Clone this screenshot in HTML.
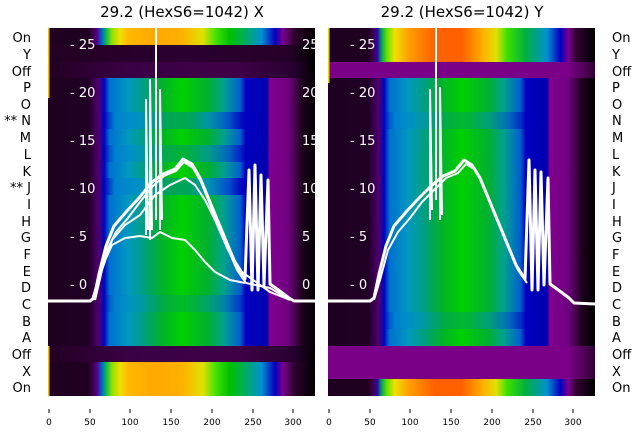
<!DOCTYPE html>
<html><head><meta charset="utf-8"><style>
html,body{margin:0;padding:0;background:#fff;width:640px;height:440px;overflow:hidden}
svg{display:block;font-family:"DejaVu Sans","Liberation Sans",sans-serif}
</style></head><body>
<svg width="640" height="440" viewBox="0 0 640 440">
<defs>
<linearGradient id="spec" x1="0" x2="1" y1="0" y2="0">
<stop offset="0" stop-color="#200020"/><stop offset="0.15" stop-color="#200020"/><stop offset="0.17" stop-color="#400050"/>
<stop offset="0.185" stop-color="#5a0090"/><stop offset="0.2" stop-color="#0060d0"/><stop offset="0.215" stop-color="#00b060"/>
<stop offset="0.24" stop-color="#90e000"/><stop offset="0.27" stop-color="#f0e000"/><stop offset="0.3" stop-color="#ffb800"/>
<stop offset="0.4" stop-color="#ffa800"/><stop offset="0.5" stop-color="#ffb000"/><stop offset="0.58" stop-color="#e0e000"/>
<stop offset="0.63" stop-color="#40e000"/><stop offset="0.68" stop-color="#00c000"/><stop offset="0.73" stop-color="#00b050"/>
<stop offset="0.8" stop-color="#0090d0"/><stop offset="0.85" stop-color="#0000c0"/><stop offset="0.88" stop-color="#7a0090"/>
<stop offset="0.92" stop-color="#300030"/><stop offset="1" stop-color="#000"/></linearGradient>
<linearGradient id="specR" x1="0" x2="1" y1="0" y2="0">
<stop offset="0" stop-color="#200020"/><stop offset="0.15" stop-color="#200020"/><stop offset="0.17" stop-color="#400050"/>
<stop offset="0.185" stop-color="#3000b0"/><stop offset="0.2" stop-color="#00a060"/><stop offset="0.22" stop-color="#60e000"/>
<stop offset="0.25" stop-color="#f0e000"/><stop offset="0.3" stop-color="#ffa000"/><stop offset="0.4" stop-color="#ff6000"/>
<stop offset="0.5" stop-color="#ff6000"/><stop offset="0.58" stop-color="#ffb000"/><stop offset="0.63" stop-color="#e0e000"/>
<stop offset="0.67" stop-color="#40e000"/><stop offset="0.74" stop-color="#00b040"/><stop offset="0.82" stop-color="#0090d0"/>
<stop offset="0.87" stop-color="#0000c0"/><stop offset="0.9" stop-color="#7a0090"/><stop offset="0.93" stop-color="#300030"/><stop offset="1" stop-color="#000"/></linearGradient>
<linearGradient id="band" x1="0" x2="1" y1="0" y2="0">
<stop offset="0" stop-color="#200020"/><stop offset="0.15" stop-color="#200025"/><stop offset="0.19" stop-color="#500070"/>
<stop offset="0.21" stop-color="#0000c0"/><stop offset="0.23" stop-color="#0070d0"/><stop offset="0.3" stop-color="#0098c0"/>
<stop offset="0.36" stop-color="#00a080"/><stop offset="0.42" stop-color="#00b030"/><stop offset="0.5" stop-color="#00d000"/>
<stop offset="0.6" stop-color="#00b030"/><stop offset="0.66" stop-color="#00a090"/><stop offset="0.72" stop-color="#0060d0"/>
<stop offset="0.74" stop-color="#0000c0"/><stop offset="0.82" stop-color="#0000b0"/><stop offset="0.83" stop-color="#800090"/>
<stop offset="0.9" stop-color="#700080"/><stop offset="0.95" stop-color="#200020"/><stop offset="1" stop-color="#000"/></linearGradient>
<linearGradient id="bandB" x1="0" x2="1" y1="0" y2="0">
<stop offset="0" stop-color="#200020"/><stop offset="0.15" stop-color="#200025"/><stop offset="0.19" stop-color="#500070"/>
<stop offset="0.21" stop-color="#0000c0"/><stop offset="0.25" stop-color="#0080d0"/><stop offset="0.35" stop-color="#0090c8"/>
<stop offset="0.45" stop-color="#00a060"/><stop offset="0.52" stop-color="#00a060"/><stop offset="0.6" stop-color="#0090c0"/>
<stop offset="0.68" stop-color="#0040d0"/><stop offset="0.72" stop-color="#0000c0"/><stop offset="0.82" stop-color="#0000b0"/>
<stop offset="0.83" stop-color="#800090"/><stop offset="0.9" stop-color="#700080"/><stop offset="0.95" stop-color="#200020"/><stop offset="1" stop-color="#000"/></linearGradient>
<linearGradient id="dark" x1="0" x2="1" y1="0" y2="0">
<stop offset="0" stop-color="#220022"/><stop offset="0.5" stop-color="#2a0030"/><stop offset="0.9" stop-color="#250028"/><stop offset="1" stop-color="#000"/></linearGradient>
<linearGradient id="darkP" x1="0" x2="1" y1="0" y2="0">
<stop offset="0" stop-color="#220022"/><stop offset="0.3" stop-color="#3a0045"/><stop offset="0.7" stop-color="#400048"/><stop offset="0.92" stop-color="#280030"/><stop offset="1" stop-color="#000"/></linearGradient>
<linearGradient id="purp" x1="0" x2="1" y1="0" y2="0">
<stop offset="0" stop-color="#7a0088"/><stop offset="0.9" stop-color="#7a0088"/><stop offset="1" stop-color="#300035"/></linearGradient>
</defs>

<text x="182" y="17" font-size="15" text-anchor="middle" fill="#000">29.2 (HexS6=1042) X</text>
<text x="462" y="17" font-size="15" text-anchor="middle" fill="#000">29.2 (HexS6=1042) Y</text>

<!-- Left panel -->
<g>
<rect x="48" y="28" width="267" height="17" fill="url(#spec)"/>
<rect x="48" y="45" width="267" height="17" fill="url(#dark)"/>
<rect x="48" y="62" width="267" height="16" fill="url(#darkP)"/>
<rect x="48" y="78" width="267" height="268" fill="url(#band)"/>
<rect x="48" y="112" width="267" height="17" fill="url(#bandB)" opacity="0.8"/>
<rect x="48" y="145" width="267" height="17" fill="url(#bandB)" opacity="0.6"/>
<rect x="48" y="178" width="267" height="17" fill="url(#bandB)" opacity="0.9"/>
<rect x="48" y="295" width="267" height="17" fill="url(#bandB)" opacity="0.4"/>
<rect x="48" y="346" width="267" height="16" fill="url(#darkP)"/>
<rect x="48" y="362" width="267" height="34" fill="url(#spec)"/>
<rect x="48" y="28" width="1.5" height="70" fill="#f0c000"/>
<rect x="48" y="346" width="1.5" height="50" fill="#f0c000"/>
<g fill="#fff" font-size="13">
<text x="70" y="49">- 25</text><text x="70" y="97">- 20</text><text x="70" y="145">- 15</text>
<text x="70" y="193">- 10</text><text x="70" y="241">- 5</text><text x="70" y="289">- 0</text>
<text x="302" y="49">25</text><text x="302" y="97">20</text><text x="302" y="145">15</text>
<text x="302" y="193">10</text><text x="302" y="241">5</text><text x="302" y="289">0</text>
</g>
<g fill="none" stroke="#fff" stroke-width="2" stroke-linejoin="round">
<path d="M48,301 L90,301 L94,298 L99,274 L106,246 L114,226 L126,212 L139,198 L151,183 L163,174 L175,169 L183,159 L192,164 L200,178 L212,207 L224,236 L236,265 L245,279 L249,170 L252,290 L255,165 L258,290 L261,175 L264,285 L268,180 L270,284 L277,289 L289,298 L294,301 L315,301" stroke-width="3"/>
<path d="M92,300 L98,280 L106,252 L116,232 L128,218 L140,202 L152,187 L164,176 L176,171 L184,162 L193,168 L201,182 L213,212 L225,242 L237,270 L246,283 L270,288 L280,294 L292,300"/>
<path d="M95,300 L102,270 L112,240 L125,225 L140,215 L155,195 L170,185 L185,178 L195,185 L205,200 L215,220 L228,250 L242,272 L270,292 L290,300"/>
<path d="M95,300 L103,265 L112,245 L125,238 L140,236 L152,238 L160,232 L172,238 L185,240 L195,250 L205,262 L215,272 L230,280 L245,283"/>
<path d="M156,28 L156,220"/>
<path d="M150,240 L150,80 L152,230 M160,230 L160,90 L162,220 M146,235 L146,100 L148,230"/>
</g>
</g>

<!-- Right panel -->
<g>
<rect x="328" y="28" width="267" height="34" fill="url(#specR)"/>
<rect x="328" y="62" width="267" height="16" fill="url(#purp)"/>
<rect x="328" y="78" width="267" height="268" fill="url(#band)"/>
<rect x="328" y="112" width="267" height="17" fill="url(#bandB)" opacity="0.5"/>
<rect x="328" y="312" width="267" height="17" fill="url(#bandB)" opacity="0.5"/>
<rect x="328" y="346" width="267" height="33" fill="url(#purp)"/>
<rect x="328" y="379" width="267" height="17" fill="url(#specR)"/>
<rect x="328" y="28" width="1.5" height="55" fill="#e0e000"/>
<g fill="#fff" font-size="13">
<text x="350" y="49">- 25</text><text x="350" y="97">- 20</text><text x="350" y="145">- 15</text>
<text x="350" y="193">- 10</text><text x="350" y="241">- 5</text><text x="350" y="289">- 0</text>
</g>
<g fill="none" stroke="#fff" stroke-width="3" stroke-linejoin="round">
<path d="M328,301 L370,301 L374,298 L379,274 L386,246 L394,226 L406,212 L419,198 L431,186 L443,176 L455,171 L464,160 L472,165 L480,178 L492,207 L504,236 L516,265 L525,279 L529,160 L532,290 L535,170 L538,290 L541,172 L544,285 L548,178 L550,284 L557,289 L569,298 L574,303 L595,304"/>
<path d="M374,300 L380,280 L388,250 L398,232 L410,218 L422,202 L434,190 L446,178 L458,173 L466,164 L474,169 L482,182 L494,212 L506,242 L518,270 L527,283" stroke-width="2"/>
<path d="M436,28 L436,200" stroke-width="2"/>
<path d="M430,220 L430,90 L432,210 M440,220 L440,88 L442,215" stroke-width="2"/>
</g>
</g>

<!-- category labels -->
<g font-size="13" fill="#000">
<g text-anchor="end">
<text x="31" y="42">On</text><text x="31" y="59">Y</text><text x="31" y="76">Off</text><text x="31" y="92">P</text>
<text x="31" y="109">O</text><text x="31" y="125">** N</text><text x="31" y="142">M</text><text x="31" y="159">L</text>
<text x="31" y="176">K</text><text x="31" y="192">** J</text><text x="31" y="209">I</text><text x="31" y="226">H</text>
<text x="31" y="242">G</text><text x="31" y="259">F</text><text x="31" y="276">E</text><text x="31" y="292">D</text>
<text x="31" y="309">C</text><text x="31" y="326">B</text><text x="31" y="342">A</text><text x="31" y="359">Off</text>
<text x="31" y="376">X</text><text x="31" y="392">On</text>
</g>
<g>
<text x="612" y="42">On</text><text x="612" y="59">Y</text><text x="612" y="76">Off</text><text x="612" y="92">P</text>
<text x="612" y="109">O</text><text x="612" y="125">N</text><text x="612" y="142">M</text><text x="612" y="159">L</text>
<text x="612" y="176">K</text><text x="612" y="192">J</text><text x="612" y="209">I</text><text x="612" y="226">H</text>
<text x="612" y="242">G</text><text x="612" y="259">F</text><text x="612" y="276">E</text><text x="612" y="292">D</text>
<text x="612" y="309">C</text><text x="612" y="326">B</text><text x="612" y="342">A</text><text x="612" y="359">Off</text>
<text x="612" y="376">X</text><text x="612" y="392">On</text>
</g>
</g>

<!-- x ticks -->
<g stroke="#000" stroke-width="1">
<path d="M49,409v4M90,409v4M130,409v4M171,409v4M212,409v4M253,409v4M293,409v4"/>
<path d="M329,409v4M370,409v4M410,409v4M451,409v4M492,409v4M533,409v4M573,409v4"/>
</g>
<g font-size="9" fill="#000" text-anchor="middle">
<text x="49" y="425">0</text><text x="90" y="425">50</text><text x="130" y="425">100</text><text x="171" y="425">150</text>
<text x="212" y="425">200</text><text x="253" y="425">250</text><text x="293" y="425">300</text>
<text x="329" y="425">0</text><text x="370" y="425">50</text><text x="410" y="425">100</text><text x="451" y="425">150</text>
<text x="492" y="425">200</text><text x="533" y="425">250</text><text x="573" y="425">300</text>
</g>
</svg>
</body></html>
